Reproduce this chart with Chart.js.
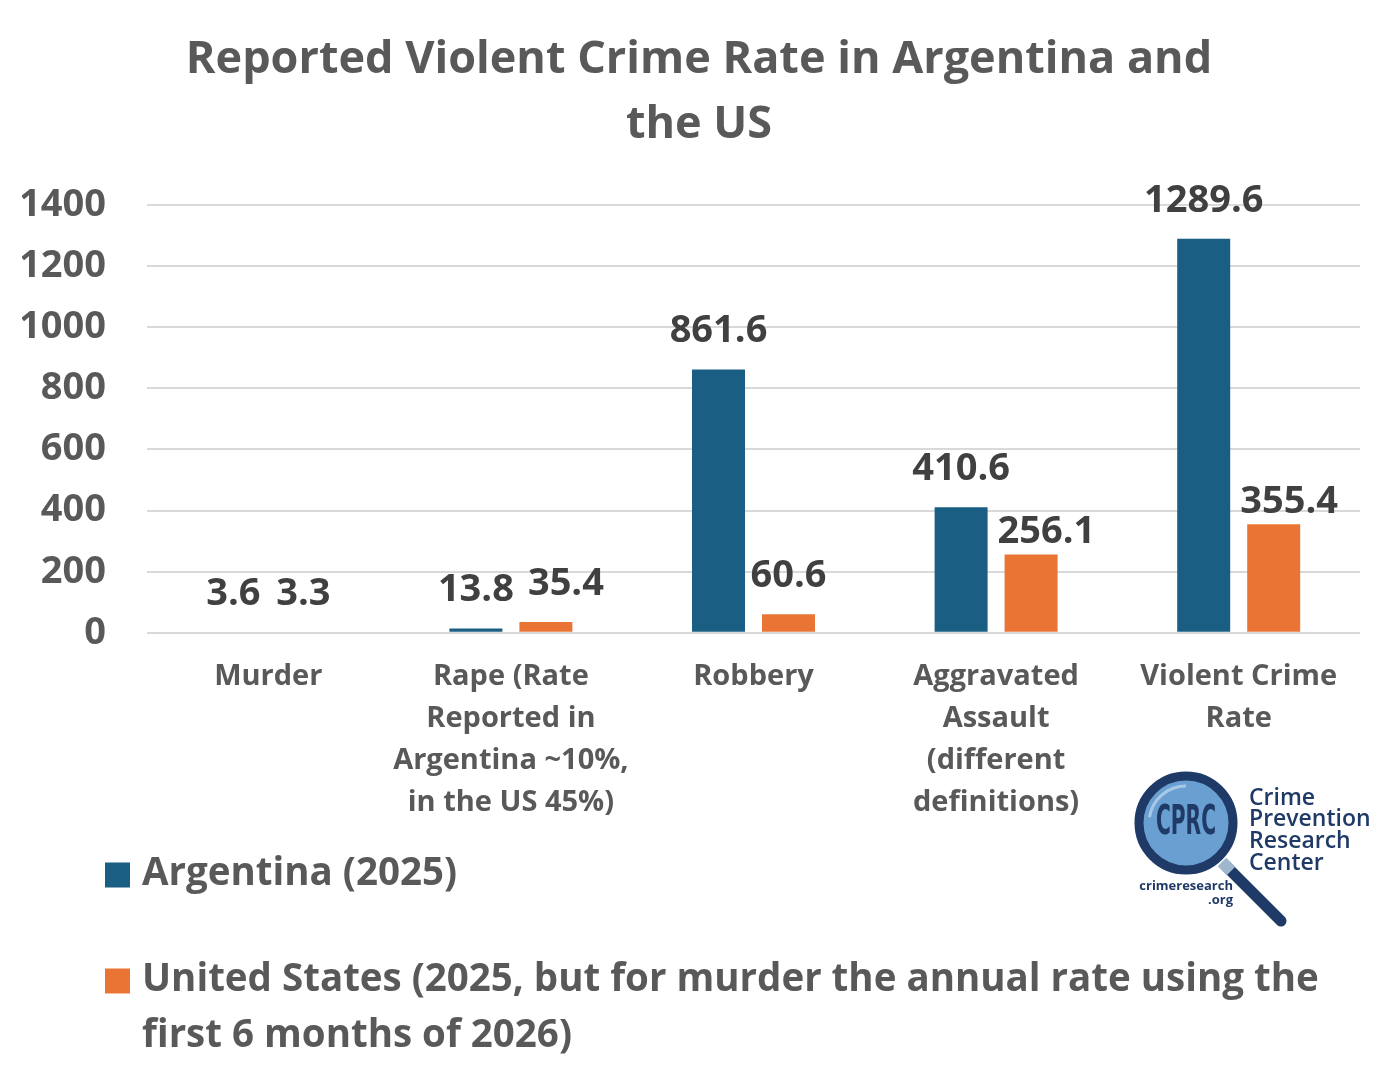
<!DOCTYPE html>
<html>
<head>
<meta charset="utf-8">
<script src="https://cdn.jsdelivr.net/npm/chart.js@4"></script>
<style>
  html, body { margin: 0; padding: 0; background: #ffffff; }
  #wrap { width: 1400px; height: 1072px; position: relative; }
</style>
</head>
<body>
<div id="wrap"><canvas id="c" width="1400" height="1072"></canvas></div>
<script>
// ---- data ----
const categories = [
  ['Murder'],
  ['Rape (Rate', 'Reported in', 'Argentina ~10%,', 'in the US 45%)'],
  ['Robbery'],
  ['Aggravated', 'Assault', '(different', 'definitions)'],
  ['Violent Crime', 'Rate']
];
const argentinaValues = [3.6, 13.8, 861.6, 410.6, 1289.6];
const usValues = [3.3, 35.4, 60.6, 256.1, 355.4];
const seriesLabels = ['Argentina (2025)', 'United States (2025, but for murder the annual rate using the first 6 months of 2026)'];
const titleLines = ['Reported Violent Crime Rate in Argentina and', 'the US'];
const yTickMin = 0, yTickMax = 1400, yTickStep = 200;

const FONT = "'Open Sans', 'Liberation Sans', sans-serif";
const GRAY = '#595959';
const BLUE = '#1a5e84';
const ORANGE = '#e97434';
const NAVY = '#1f3a66';

// value labels above bars; a label that would collide with the neighbouring
// bar or label of the previous series is nudged to the right
const valueLabels = {
  id: 'valueLabels',
  afterDatasetsDraw(chart) {
    const ctx = chart.ctx;
    ctx.save();
    ctx.font = 'bold 38px ' + FONT;
    ctx.fillStyle = '#404040';
    ctx.textAlign = 'center';
    ctx.textBaseline = 'middle';
    const OFF = 38, OFF_SIDE = 22, H = 38;
    const placed = [];
    chart.data.datasets.forEach((ds, i) => {
      const meta = chart.getDatasetMeta(i);
      meta.data.forEach((el, j) => {
        const txt = ds.data[j].toFixed(1);
        const w = ctx.measureText(txt).width;
        let x = el.x;
        let y = el.y - OFF;
        if (i > 0) {
          const prevEl = chart.getDatasetMeta(i - 1).data[j];
          const prevLab = placed[(i - 1) * meta.data.length + j];
          const barRight = prevEl.x + prevEl.width / 2;
          const top = y - H / 2, bot = y + H / 2;
          const left = x - w / 2;
          if (bot > prevEl.y && top < prevEl.base && left < barRight + 3) {
            x = barRight + 10 + w / 2;
            y = el.y - OFF_SIDE;
          } else if (prevLab && bot > prevLab.top && top < prevLab.bot && left < prevLab.right + 6) {
            x = prevLab.right + 14 + w / 2;
          }
        }
        placed[i * meta.data.length + j] = { right: x + w / 2, top: y - H / 2, bot: y + H / 2 };
        ctx.fillText(txt, x, y);
      });
    });
    ctx.restore();
  }
};

const customLegend = {
  id: 'customLegend',
  afterDraw(chart) {
    const ctx = chart.ctx;
    const xs = chart.scales.x;
    ctx.save();
    ctx.font = 'bold 38.5px ' + FONT;
    ctx.textBaseline = 'middle';
    ctx.textAlign = 'left';
    const boxX = 105, boxS = 25, textX = 142, maxW = 1200, lineH = 56;
    let y = xs.bottom + 27;
    chart.data.datasets.forEach((ds) => {
      const words = ds.label.split(' ');
      const lines = [];
      let cur = '';
      words.forEach(w => {
        const t = cur ? cur + ' ' + w : w;
        if (ctx.measureText(t).width > maxW && cur) { lines.push(cur); cur = w; }
        else cur = t;
      });
      if (cur) lines.push(cur);
      ctx.fillStyle = ds.backgroundColor;
      ctx.fillRect(boxX, y - boxS / 2 + 1, boxS, boxS);
      ctx.fillStyle = GRAY;
      lines.forEach((ln, k) => ctx.fillText(ln, textX, y + k * lineH));
      y += 106 + (lines.length - 1) * lineH;
    });
    ctx.restore();

    // CPRC logo
    ctx.save();
    const cx = 1186, cy = 823, r = 47;
    ctx.lineCap = 'round';
    ctx.strokeStyle = NAVY;
    ctx.lineWidth = 11;
    ctx.beginPath(); ctx.moveTo(1226, 866); ctx.lineTo(1281, 921); ctx.stroke();
    ctx.strokeStyle = '#9fb6cf';
    ctx.lineCap = 'butt';
    ctx.lineWidth = 12;
    ctx.beginPath(); ctx.moveTo(1222, 862); ctx.lineTo(1231, 871); ctx.stroke();
    ctx.beginPath(); ctx.arc(cx, cy, r, 0, Math.PI * 2);
    ctx.fillStyle = '#6a9fd2'; ctx.fill();
    ctx.lineWidth = 9; ctx.strokeStyle = NAVY; ctx.stroke();
    ctx.beginPath(); ctx.arc(cx, cy, r - 10, Math.PI * 1.05, Math.PI * 1.5);
    ctx.lineWidth = 3; ctx.strokeStyle = '#a9c8e6'; ctx.stroke();
    ctx.fillStyle = NAVY;
    ctx.textAlign = 'center'; ctx.textBaseline = 'middle';
    ctx.font = "bold 40px 'Liberation Sans Narrow', 'DejaVu Sans Condensed', sans-serif";
    const w = ctx.measureText('CPRC').width;
    ctx.translate(cx, cy + 1);
    ctx.scale(60 / w, 1);
    ctx.fillText('CPRC', 0, 0);
    ctx.setTransform(1, 0, 0, 1, 0, 0);
    ctx.textAlign = 'left';
    ctx.font = "600 23px " + FONT;
    ['Crime', 'Prevention', 'Research', 'Center'].forEach((t, k) => ctx.fillText(t, 1249, 798 + k * 21.7));
    ctx.font = "bold 13px " + FONT;
    ctx.textAlign = 'right';
    ctx.fillText('crimeresearch', 1233, 886);
    ctx.fillText('.org', 1233, 900);
    ctx.restore();
  }
};

new Chart(document.getElementById('c'), {
  type: 'bar',
  data: {
    labels: categories,
    datasets: [
      { label: seriesLabels[0], data: argentinaValues, backgroundColor: BLUE },
      { label: seriesLabels[1], data: usValues, backgroundColor: ORANGE }
    ]
  },
  options: {
    responsive: false,
    animation: false,
    devicePixelRatio: 1,
    layout: { padding: { left: 22, right: 24, top: 0, bottom: 225 } },
    datasets: { bar: { categoryPercentage: 0.577, barPercentage: 0.757 } },
    plugins: {
      legend: { display: false },
      tooltip: { enabled: false },
      title: {
        display: true,
        text: titleLines,
        color: GRAY,
        font: { family: FONT, size: 45, weight: 'bold', lineHeight: 1.444 },
        padding: { top: 27.5, bottom: 47.5 }
      }
    },
    scales: {
      x: {
        grid: { display: false, drawTicks: false },
        border: { display: false },
        ticks: {
          color: GRAY,
          padding: 23,
          maxRotation: 0,
          autoSkip: false,
          font: { family: FONT, size: 29, weight: 'bold', lineHeight: 1.45 }
        }
      },
      y: {
        min: yTickMin,
        max: yTickMax,
        grid: { color: '#d9d9d9', lineWidth: 2, drawTicks: false },
        border: { display: false },
        afterFit: (scale) => { scale.width = 125; },
        ticks: {
          stepSize: yTickStep,
          color: GRAY,
          padding: 41,
          font: { family: FONT, size: 38, weight: 'bold' },
          callback: (v) => String(v)
        }
      },
      yRightSpace: {
        type: 'linear',
        position: 'right',
        display: true,
        grid: { display: false, drawTicks: false },
        border: { display: false },
        ticks: { display: false },
        afterFit: (scale) => { scale.width = 16; }
      }
    }
  },
  plugins: [valueLabels, customLegend]
});
</script>
</body>
</html>
